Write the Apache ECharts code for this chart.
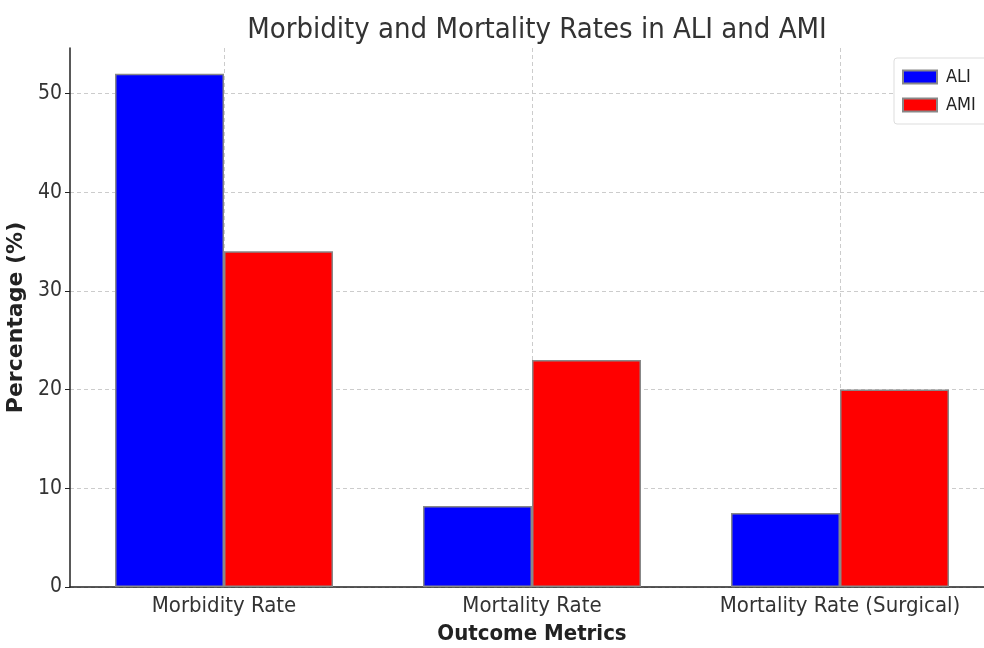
<!DOCTYPE html>
<html>
<head>
<meta charset="utf-8">
<script src="https://cdn.jsdelivr.net/npm/echarts@6/dist/echarts.min.js"></script>
<style>
  html, body { margin: 0; padding: 0; background: #fff; }
  #main { width: 984px; height: 648px; }
</style>
</head>
<body>
<div id="main"></div>
<script>
// data
var categories = ['Morbidity Rate', 'Mortality Rate', 'Mortality Rate (Surgical)'];
var aliValues = [52, 8.2, 7.5];
var amiValues = [34, 23, 20];
var yTicks = [0, 10, 20, 30, 40, 50];

var font = 'DejaVu Sans Condensed, DejaVu Sans, sans-serif';

var chart = echarts.init(document.getElementById('main'));

var option = {
  backgroundColor: '#fff',
  animation: false,
  title: {
    text: 'Morbidity and Mortality Rates in ALI and AMI',
    left: 532,
    textAlign: 'center',
    top: 11,
    textStyle: { fontFamily: font, fontWeight: 'normal', fontSize: 29, color: '#333' }
  },
  legend: {
    data: ['ALI', 'AMI'],
    orient: 'vertical',
    left: 894,
    top: 58,
    icon: 'rect',
    itemWidth: 34,
    itemHeight: 13,
    itemGap: 10,
    padding: [10, 14, 10, 8],
    backgroundColor: '#fff',
    borderColor: '#ddd',
    borderWidth: 1,
    borderRadius: 3,
    textStyle: { fontFamily: font, fontSize: 18, color: '#222', padding: [0, 0, 0, 4] }
  },
  grid: { left: 70, right: -10, top: 48, bottom: 61, outerBoundsMode: 'none', containLabel: false },
  xAxis: {
    type: 'category',
    data: categories,
    name: 'Outcome Metrics',
    nameLocation: 'middle',
    nameGap: 36,
    nameTextStyle: { fontFamily: font, fontWeight: 'bold', fontSize: 22, color: '#222' },
    axisLine: { lineStyle: { color: '#222', width: 1.5 } },
    axisTick: { interval: 0, alignWithLabel: true, length: 5, lineStyle: { color: '#222' } },
    axisLabel: { interval: 0, hideOverlap: false, fontFamily: font, fontSize: 22, color: '#333', margin: 8 },
    splitLine: {
      show: true,
      interval: 0,
      alignWithLabel: true,
      lineStyle: { color: '#ccc', type: [4, 3], width: 1 }
    }
  },
  yAxis: {
    type: 'value',
    min: 0,
    max: 54.6,
    interval: 10,
    name: 'Percentage (%)',
    nameLocation: 'middle',
    nameGap: 35,
    nameRotate: 90,
    nameTextStyle: { fontFamily: 'DejaVu Sans, sans-serif', fontWeight: 'bold', fontSize: 22, color: '#222' },
    axisLine: { show: true, lineStyle: { color: '#222', width: 1.5 } },
    axisTick: { show: true, length: 5, lineStyle: { color: '#222' } },
    axisLabel: {
      fontFamily: font, fontSize: 21, color: '#333', margin: 8,
      showMaxLabel: false,
      formatter: function (v) { return yTicks.indexOf(v) >= 0 ? String(v) : ''; }
    },
    splitLine: {
      show: true,
      lineStyle: {
        color: ['#ccc', '#ccc', '#ccc', '#ccc', '#ccc', '#ccc', 'rgba(0,0,0,0)'],
        type: [4, 3],
        width: 1
      }
    }
  },
  series: [
    {
      name: 'ALI',
      type: 'bar',
      data: aliValues,
      barWidth: 109,
      barGap: '0%',
      itemStyle: { color: '#0000ff', borderColor: '#888', borderWidth: 1.5 }
    },
    {
      name: 'AMI',
      type: 'bar',
      data: amiValues,
      barWidth: 109,
      barGap: '0%',
      itemStyle: { color: '#ff0000', borderColor: '#888', borderWidth: 1.5 }
    }
  ]
};

chart.setOption(option);
</script>
</body>
</html>
